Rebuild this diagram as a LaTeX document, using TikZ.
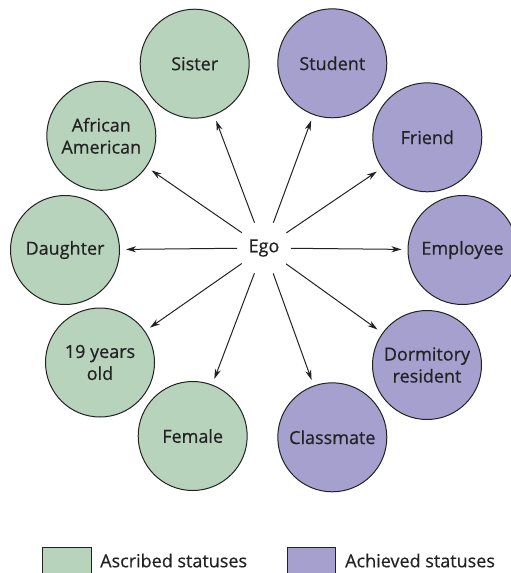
\documentclass[tikz,border=0pt]{standalone}
\usepackage{fontspec}
\setmainfont{Open Sans}
\newfontfamily\diagfont{Open Sans}[FakeBold=0.5]
\usetikzlibrary{arrows.meta}
\definecolor{ascr}{HTML}{B8D3BB}
\definecolor{achv}{HTML}{A6A0CF}
\definecolor{ink}{HTML}{222222}
\begin{document}
\begin{tikzpicture}[x=1pt,y=-1pt,
  stat/.style={circle, draw=ink, line width=1pt, minimum size=109pt, inner sep=0pt, align=center, font=\diagfont\fontsize{18}{22}\selectfont, text=ink},
  asc/.style={stat, fill=ascr},
  ach/.style={stat, fill=achv},
  lbl/.style={font=\diagfont\fontsize{18}{22}\selectfont, text=ink},
  link/.style={-{Stealth[length=10pt,width=6pt,inset=3pt]}, line width=1pt, draw=ink, shorten <=27pt, shorten >=6pt},
  keybox/.style={draw=ink, line width=1pt, minimum width=48.7pt, minimum height=40pt, anchor=north west, inner sep=0pt}]
\useasboundingbox (0,0) rectangle (511,573);
\clip (0,0) rectangle (511,573);
\node[lbl] (ego) at (264,248) {Ego};
\node[asc] (sister) at (194.7,63.7) {Sister};
\node[asc] (afam) at (101.3,135.8) {African\\American};
\node[asc] (daughter) at (65,250) {Daughter};
\node[asc] (nineteen) at (100,362.5) {19 years\\old};
\node[asc] (female) at (192.7,436) {Female};
\node[ach] (student) at (332.3,63.3) {Student};
\node[ach] (friend) at (427.3,137.3) {Friend};
\node[ach] (employee) at (462.5,250) {Employee};
\node[ach] (dorm) at (427,365) {Dormitory\\resident};
\node[ach] (classmate) at (332.3,437.3) {Classmate};
\foreach \t in {sister,afam,daughter,nineteen,female,student,friend,employee,dorm,classmate}
  \draw[link] (ego.center) -- (\t);
\node[keybox, fill=ascr] (keyasc) at (42.3,547.3) {};
\node[lbl, anchor=base west, inner sep=0pt] (keyasct) at (100,567.3) {Ascribed statuses};
\node[keybox, fill=achv] (keyach) at (286.7,547.3) {};
\node[lbl, anchor=base west, inner sep=0pt] (keyacht) at (345,567.3) {Achieved statuses};
\end{tikzpicture}
\end{document}
